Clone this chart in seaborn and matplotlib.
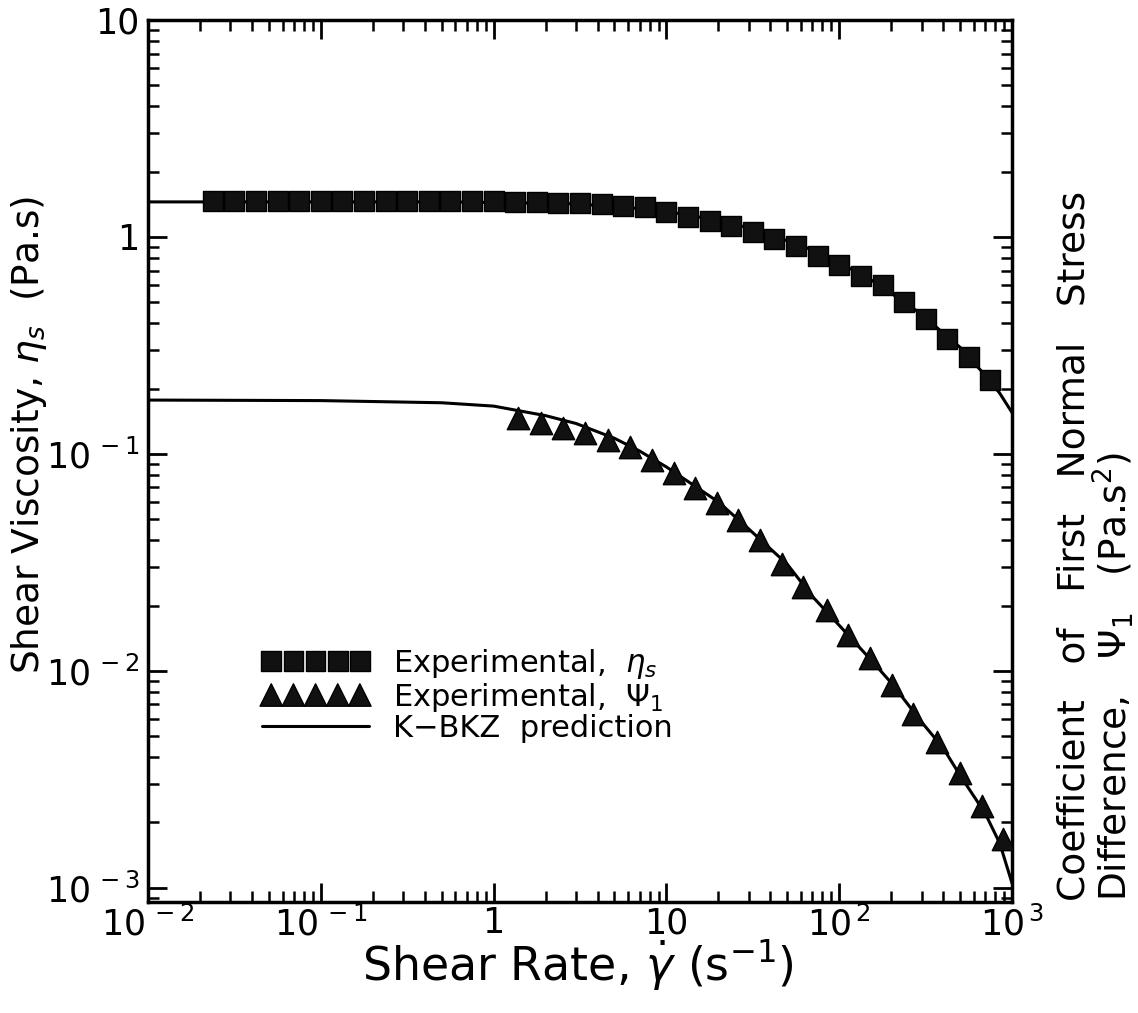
import math
import matplotlib
matplotlib.use("Agg")
import matplotlib.pyplot as plt
from matplotlib.ticker import FuncFormatter, NullFormatter, LogLocator
import seaborn as sns

# shear viscosity data (squares)
rate_eta = [0.0237, 0.0316, 0.0422, 0.0562, 0.0750, 0.100, 0.133, 0.178, 0.237,
            0.316, 0.422, 0.562, 0.750, 1.00, 1.33, 1.78, 2.37, 3.16, 4.22, 5.62,
            7.50, 10.0, 13.3, 17.8, 23.7, 31.6, 42.2, 56.2, 75.0, 100, 133, 178,
            237, 316, 422, 562, 750]
eta_s = [1.46, 1.46, 1.46, 1.46, 1.46, 1.46, 1.46, 1.46, 1.46,
         1.46, 1.46, 1.46, 1.46, 1.46, 1.45, 1.45, 1.44, 1.44, 1.42, 1.39,
         1.37, 1.30, 1.23, 1.18, 1.12, 1.05, 0.98, 0.91, 0.82, 0.74, 0.66, 0.60,
         0.50, 0.42, 0.34, 0.28, 0.22]

# first normal stress coefficient data (triangles)
rate_psi = [1.39, 1.87, 2.51, 3.40, 4.56, 6.19, 8.30, 11.0, 14.7, 19.7, 26.1,
            34.9, 46.8, 61.9, 85.2, 113, 151, 203, 268, 369, 501, 671, 887]
psi_1 = [0.146, 0.139, 0.132, 0.125, 0.116, 0.107, 0.0938, 0.0818, 0.0698,
         0.0596, 0.0498, 0.0399, 0.0310, 0.0243, 0.0190, 0.0146, 0.0114,
         0.00863, 0.00635, 0.00472, 0.00337, 0.00238, 0.00168]

# K-BKZ model curves
rate_fit = [0.01, 0.1, 0.5, 1, 2, 3, 5, 7, 10, 15, 20, 30, 50, 70, 100, 150,
            200, 300, 400, 500, 700, 850, 1000]
eta_fit = [1.45, 1.45, 1.45, 1.44, 1.43, 1.42, 1.38, 1.35, 1.31, 1.24, 1.19,
           1.10, 0.96, 0.87, 0.76, 0.64, 0.55, 0.44, 0.36, 0.31, 0.23, 0.19, 0.155]
psi_fit = [0.177, 0.176, 0.172, 0.166, 0.150, 0.138, 0.118, 0.103, 0.087,
           0.070, 0.060, 0.045, 0.031, 0.022, 0.0162, 0.0114, 0.0088, 0.0058,
           0.0044, 0.0033, 0.0022, 0.00160, 0.00105]

sns.set_theme(style="ticks")
plt.rcParams["font.family"] = ["DejaVu Sans"]
plt.rcParams["mathtext.fontset"] = "dejavusans"
plt.rcParams["text.color"] = "black"
plt.rcParams["axes.labelcolor"] = "black"

fig = plt.figure(figsize=(11.38, 10.13), dpi=100)
ax = fig.add_axes([0.1301, 0.1096, 0.7592, 0.8707])

sns.scatterplot(x=rate_eta, y=eta_s, marker="s", s=200, color="#111111",
                edgecolor="black", linewidth=1, zorder=3, ax=ax,
                label=r"Experimental,  $\eta_s$")
sns.scatterplot(x=rate_psi, y=psi_1, marker="^", s=260, color="#111111",
                edgecolor="black", linewidth=1, zorder=3, ax=ax,
                label=r"Experimental,  $\Psi_1$")
sns.lineplot(x=rate_fit, y=eta_fit, color="black", lw=2.2, ax=ax,
             label="K\u2212BKZ  prediction")
sns.lineplot(x=rate_fit, y=psi_fit, color="black", lw=2.2, ax=ax, legend=False)

ax.set_xscale("log")
ax.set_yscale("log")
ax.set_xlim(1e-2, 1e3)
ax.set_ylim(8.6e-4, 10)


def fmt(v, pos):
    e = int(round(math.log10(v)))
    if e == 0:
        return "1"
    if e == 1:
        return "10"
    return r"$\mathregular{10^{\,%d}}$" % e


ax.xaxis.set_major_locator(LogLocator(base=10))
ax.yaxis.set_major_locator(LogLocator(base=10))
ax.xaxis.set_major_formatter(FuncFormatter(fmt))
ax.yaxis.set_major_formatter(FuncFormatter(fmt))
ax.xaxis.set_minor_formatter(NullFormatter())
ax.yaxis.set_minor_formatter(NullFormatter())

ax.tick_params(which="both", direction="in", top=True, right=True,
               labelsize=25, colors="black")
ax.tick_params(which="major", length=14, width=2)
ax.tick_params(which="minor", length=8, width=1.8)
ax.tick_params(axis="x", pad=3)
ax.tick_params(axis="y", pad=6)
for sp in ax.spines.values():
    sp.set_linewidth(2.5)
    sp.set_color("black")

ax.set_xlabel(r"Shear Rate, $\dot{\gamma}$ (s$^{-1}$)", fontsize=33)
ax.xaxis.set_label_coords(0.498, -0.040)
ax.set_ylabel(r"Shear Viscosity, $\eta_s$  (Pa.s)", fontsize=27)
ax.yaxis.set_label_coords(-0.115, 0.53)

# right-hand axis title, two lines starting at the bottom
fig.text(0.963, 0.111,
         "Coefficient   of   First   Normal   Stress\n"
         r"Difference,   $\Psi_1$   (Pa.s$^2$)",
         rotation=90, ha="center", va="bottom", multialignment="left",
         linespacing=0.95, fontsize=27)

ax.legend(loc="center left", bbox_to_anchor=(0.132, 0.235), frameon=False,
          scatterpoints=5, scatteryoffsets=[0.5], handlelength=3.5,
          handletextpad=0.8, labelspacing=0.0, fontsize=22, borderpad=0,
          borderaxespad=0)

fig.savefig("out.png", dpi=100, facecolor="white")
